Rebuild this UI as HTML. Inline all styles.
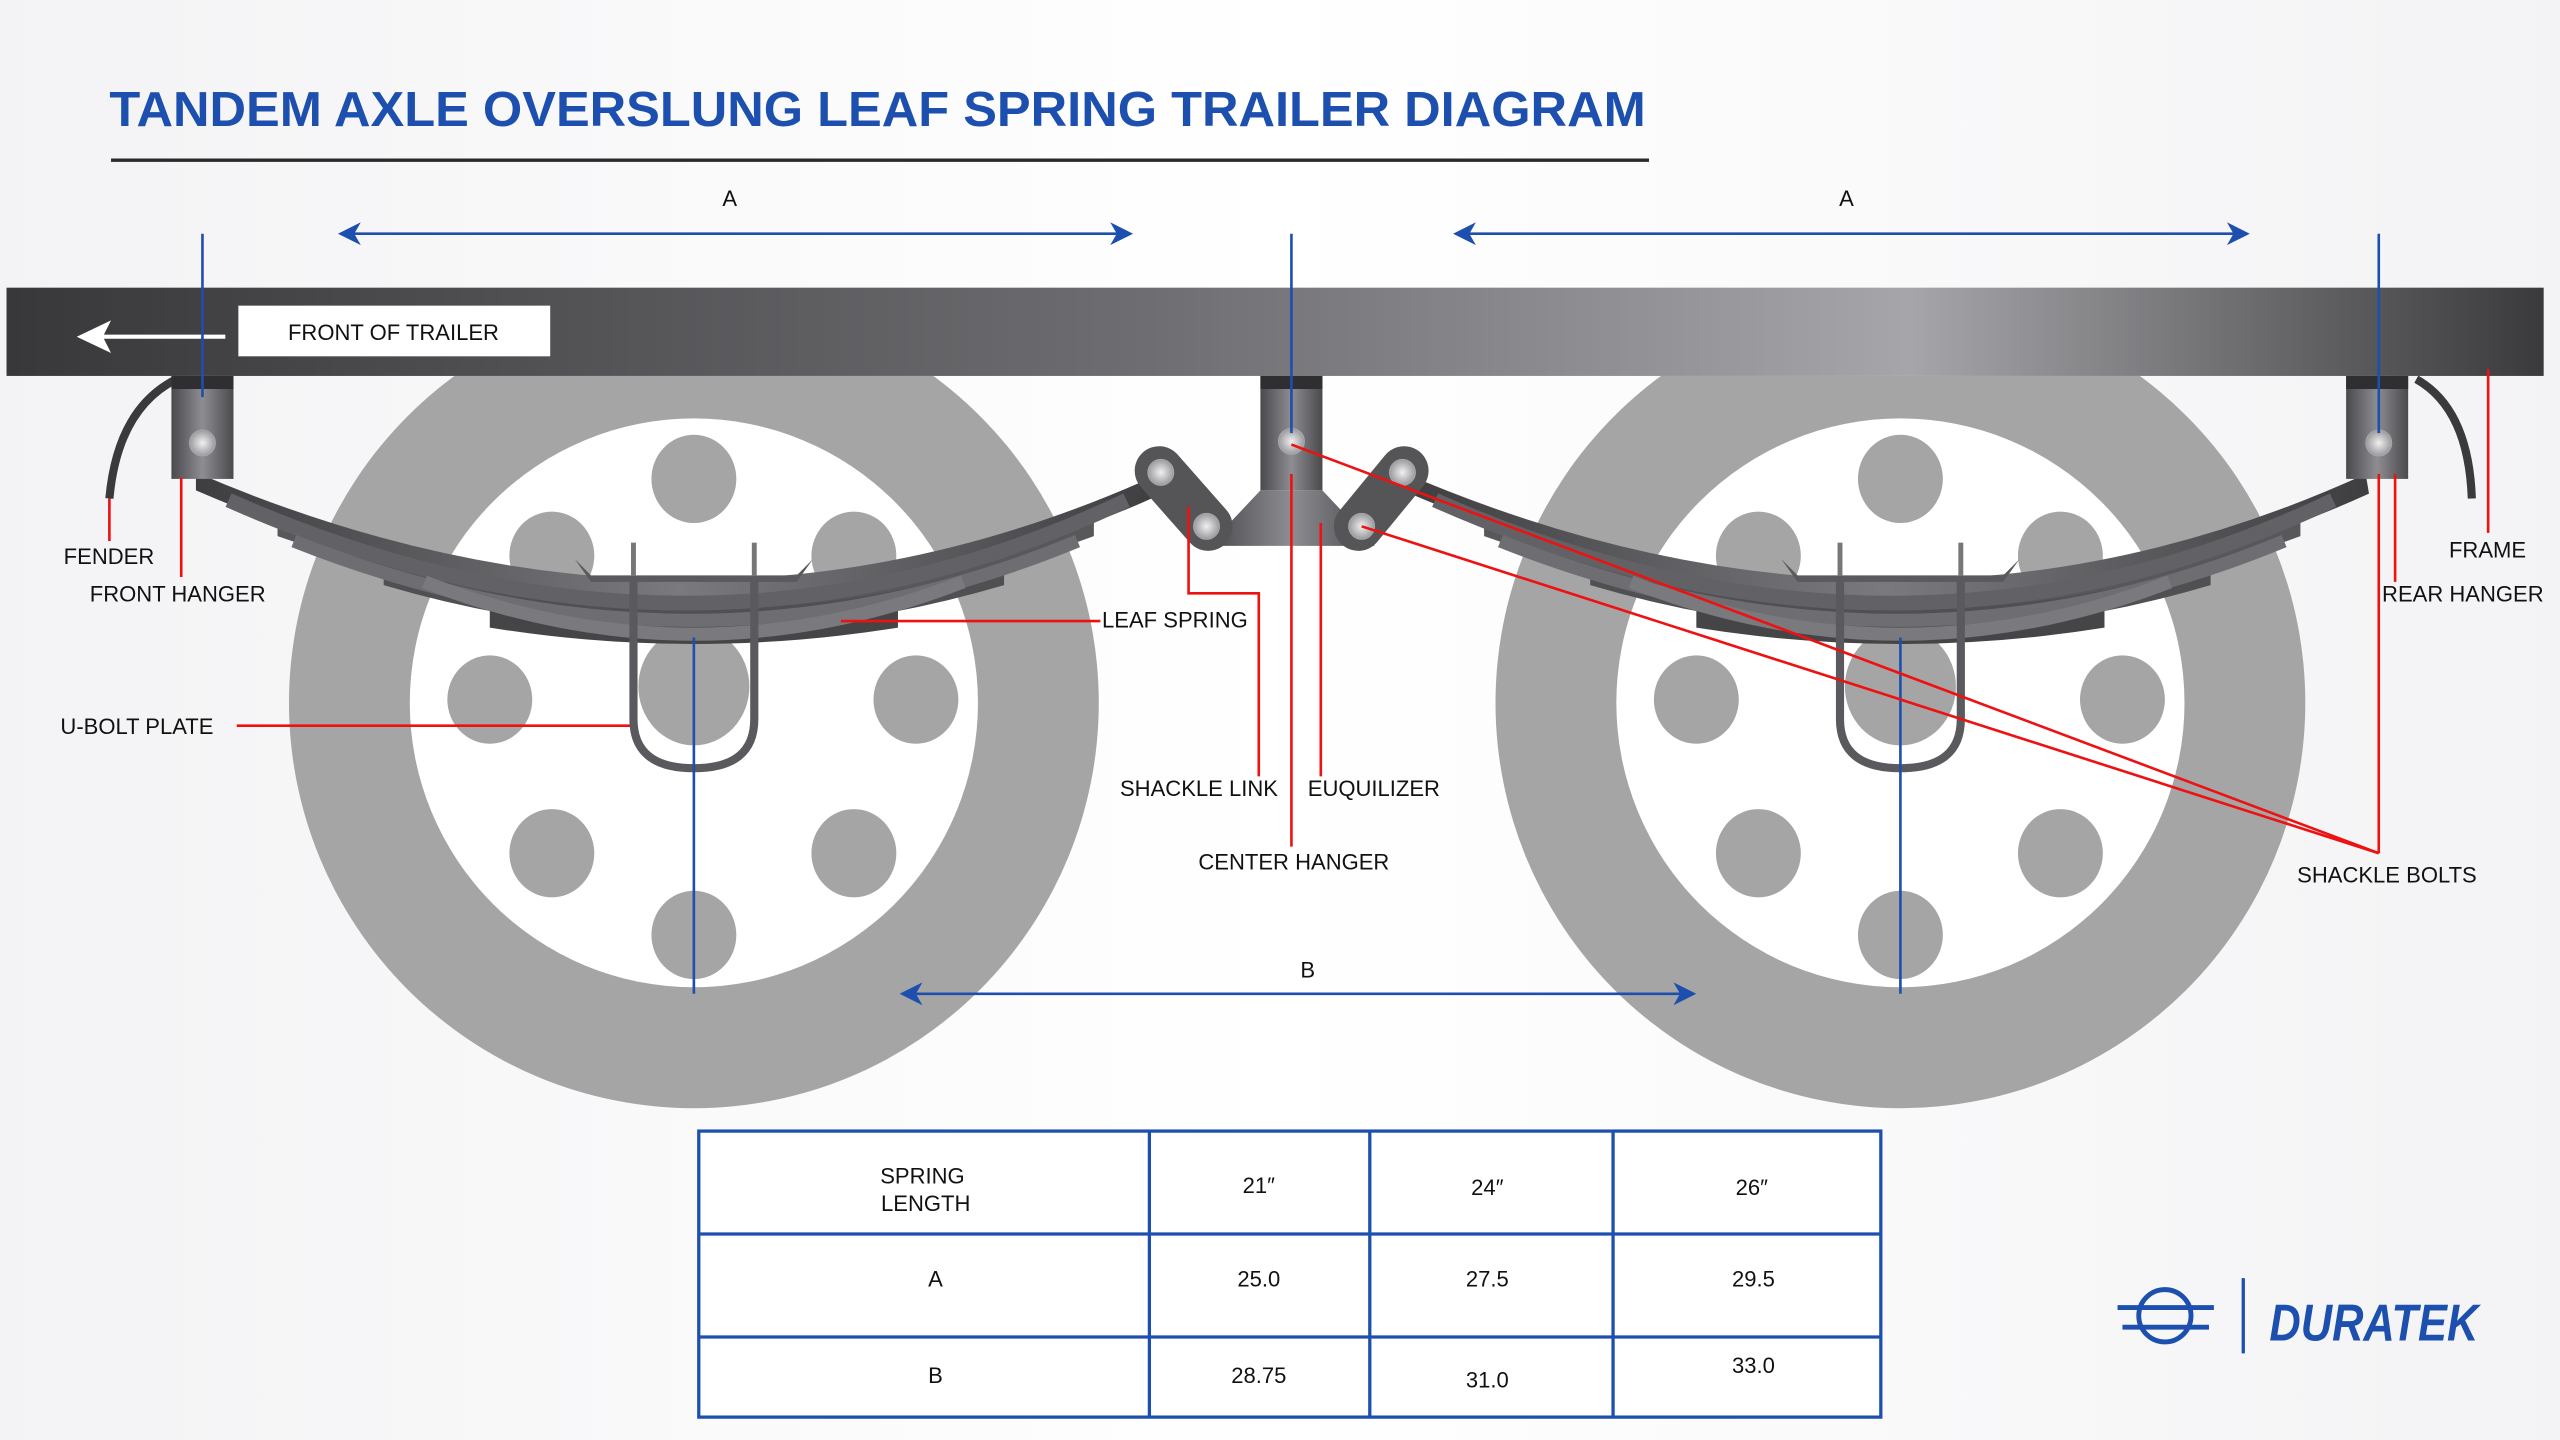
<!DOCTYPE html>
<html><head><meta charset="utf-8"><style>
html,body{margin:0;padding:0;background:#f6f6f8;}
svg{display:block;}
text{font-family:"Liberation Sans",sans-serif;}
</style></head><body>
<svg width="2560" height="1440" viewBox="0 0 1568 881" preserveAspectRatio="none" xmlns="http://www.w3.org/2000/svg">
<defs>
<linearGradient id="bg" x1="0" y1="0" x2="1" y2="0"><stop offset="0" stop-color="#f3f3f5"/><stop offset="0.5" stop-color="#ffffff"/><stop offset="1" stop-color="#f3f3f5"/></linearGradient>
<linearGradient id="frame" x1="0" y1="0" x2="1" y2="0"><stop offset="0" stop-color="#38383a"/><stop offset="0.45" stop-color="#6e6e72"/><stop offset="0.75" stop-color="#a6a6aa"/><stop offset="1" stop-color="#3a3a3c"/></linearGradient>
<linearGradient id="metal" x1="0" y1="0" x2="1" y2="0"><stop offset="0" stop-color="#4a4a4d"/><stop offset="0.5" stop-color="#8d8d92"/><stop offset="1" stop-color="#4a4a4d"/></linearGradient>
<linearGradient id="leaf" x1="0" y1="0" x2="1" y2="0"><stop offset="0" stop-color="#3e3e41"/><stop offset="0.5" stop-color="#7a7a7e"/><stop offset="1" stop-color="#3e3e41"/></linearGradient>
<radialGradient id="nut"><stop offset="0" stop-color="#f0f0f0"/><stop offset="1" stop-color="#9a9a9e"/></radialGradient>
<clipPath id="below"><rect x="0" y="230" width="1568" height="700"/></clipPath>
</defs>
<rect width="1568" height="881" fill="url(#bg)"/>
<text x="67" y="77" font-size="30" fill="#1d4fae" textLength="941" lengthAdjust="spacingAndGlyphs" style="font-weight:600">TANDEM AXLE OVERSLUNG LEAF SPRING TRAILER DIAGRAM</text>
<line x1="68" y1="98" x2="1010" y2="98" stroke="#2a2a2e" stroke-width="2"/>

<g clip-path="url(#below)">
<g fill="#a5a5a5">
<circle cx="425" cy="430" r="248"/><circle cx="1164" cy="430" r="248"/>
</g>
<g fill="#ffffff"><circle cx="425" cy="430" r="174"/><circle cx="1164" cy="430" r="174"/></g>
</g>
<g fill="#a5a5a5" id="holes">
<ellipse cx="425" cy="293" rx="26" ry="27"/><ellipse cx="338" cy="340" rx="26" ry="27"/><ellipse cx="523" cy="340" rx="26" ry="27"/>
<ellipse cx="300" cy="428" rx="26" ry="27"/><ellipse cx="561" cy="428" rx="26" ry="27"/><ellipse cx="338" cy="522" rx="26" ry="27"/>
<ellipse cx="523" cy="522" rx="26" ry="27"/><ellipse cx="425" cy="572" rx="26" ry="27"/><ellipse cx="425" cy="420" rx="34" ry="36"/>
</g>
<use href="#holes" x="739"/>

<rect x="4" y="176" width="1554" height="54" fill="url(#frame)"/>
<rect x="146" y="187" width="191" height="31" fill="#fff"/>
<text x="241" y="208" font-size="13.5" text-anchor="middle" fill="#111">FRONT OF TRAILER</text>
<line x1="60" y1="206" x2="138" y2="206" stroke="#fff" stroke-width="2.5"/>
<path d="M47 206 L68 196 L63 206 L68 216 Z" fill="#fff"/>

<path d="M108 232 Q72 250 67 305" fill="none" stroke="#3a3a3c" stroke-width="5"/>
<path d="M1480 232 Q1512 250 1514 305" fill="none" stroke="#3a3a3c" stroke-width="5"/>

<g id="spring">
<path d="M300 366 Q425 392 550 366 L550 384 Q425 404 300 384 Z" fill="#454548"/>
<path d="M235 342 Q425 402 615 342 L615 358 Q425 414 235 358 Z" fill="#505053"/>
<path d="M170 316 Q425 408 670 316 L670 328 Q425 418 170 328 Z" fill="#58585b"/>
<path d="M120 289 Q425 420 710 290 L712 302 Q425 432 120 300 Z" fill="url(#leaf)"/>
<path d="M140 306 Q425 432 690 306" fill="none" stroke="#626266" stroke-width="9"/>
<path d="M180 331 Q425 428 660 331" fill="none" stroke="#6e6e72" stroke-width="8"/>
<path d="M260 356 Q425 420 590 356" fill="none" stroke="#7a7a7e" stroke-width="8"/>
<path d="M352 342 L362 352 L488 352 L498 342 L488 356 L362 356 Z" fill="#5a5a5d"/>
<line x1="388" y1="332" x2="388" y2="352" stroke="#777" stroke-width="3"/>
<line x1="462" y1="332" x2="462" y2="352" stroke="#777" stroke-width="3"/>
<path d="M388 355 L388 440 Q388 470 425 470 Q462 470 462 440 L462 355" fill="none" stroke="#5a5a5e" stroke-width="5"/>
</g>
<use href="#spring" x="739"/>

<rect x="105" y="230" width="38" height="63" fill="url(#metal)"/>
<rect x="105" y="230" width="38" height="8" fill="#2f2f31"/>
<rect x="1437" y="230" width="38" height="63" fill="url(#metal)"/>
<rect x="1437" y="230" width="38" height="8" fill="#2f2f31"/>
<rect x="772" y="230" width="38" height="70" fill="url(#metal)"/>
<rect x="772" y="230" width="38" height="8" fill="#2f2f31"/>
<path d="M772 300 L810 300 L842 334 L740 334 Z" fill="url(#metal)"/>
<line x1="710" y1="288" x2="740" y2="322" stroke="#555558" stroke-width="30" stroke-linecap="round"/>
<line x1="860" y1="288" x2="832" y2="322" stroke="#555558" stroke-width="30" stroke-linecap="round"/>
<g fill="url(#nut)" stroke="#aaa" stroke-width="0.5">
<circle cx="124" cy="271" r="8"/><circle cx="1457" cy="271" r="8"/><circle cx="791" cy="270" r="8"/>
<circle cx="711" cy="289" r="8"/><circle cx="739" cy="322" r="8"/><circle cx="859" cy="289" r="8"/><circle cx="834" cy="322" r="8"/>
</g>

<g stroke="#1d4fae" stroke-width="1.6" fill="none">
<line x1="212" y1="143" x2="690" y2="143"/><line x1="895" y1="143" x2="1374" y2="143"/>
<line x1="557" y1="608" x2="1033" y2="608"/>
<line x1="124" y1="143" x2="124" y2="243"/><line x1="791" y1="143" x2="791" y2="265"/><line x1="1457" y1="143" x2="1457" y2="265"/>
<line x1="425" y1="390" x2="425" y2="608"/><line x1="1164" y1="390" x2="1164" y2="608"/>
</g>
<g fill="#1d4fae">
<path d="M207 143 L221 136 L217 143 L221 150 Z"/><path d="M694 143 L680 136 L684 143 L680 150 Z"/>
<path d="M890 143 L904 136 L900 143 L904 150 Z"/><path d="M1378 143 L1364 136 L1368 143 L1364 150 Z"/>
<path d="M551 608 L565 601 L561 608 L565 615 Z"/><path d="M1039 608 L1025 601 L1029 608 L1025 615 Z"/>
</g>
<g font-size="13.5" fill="#111" text-anchor="middle">
<text x="447" y="126">A</text><text x="1131" y="126">A</text><text x="801" y="598">B</text>
</g>

<g stroke="#ee1111" stroke-width="1.6" fill="none">
<line x1="67" y1="305" x2="67" y2="331"/>
<line x1="111" y1="292" x2="111" y2="353"/>
<line x1="145" y1="444" x2="386" y2="444"/>
<line x1="515" y1="380" x2="674" y2="380"/>
<polyline points="728,310 728,363 771,363 771,475"/>
<line x1="791" y1="290" x2="791" y2="518"/>
<line x1="809" y1="320" x2="809" y2="475"/>
<line x1="791" y1="272" x2="1457" y2="522"/>
<line x1="834" y1="322" x2="1457" y2="522"/>
<line x1="1457" y1="290" x2="1457" y2="522"/>
<line x1="1467" y1="290" x2="1467" y2="356"/>
<line x1="1524" y1="226" x2="1524" y2="326"/>
</g>
<g font-size="13.5" fill="#111">
<text x="39" y="345">FENDER</text>
<text x="55" y="368">FRONT HANGER</text>
<text x="37" y="449">U-BOLT PLATE</text>
<text x="675" y="384">LEAF SPRING</text>
<text x="686" y="487">SHACKLE LINK</text>
<text x="801" y="487">EUQUILIZER</text>
<text x="734" y="532">CENTER HANGER</text>
<text x="1407" y="540">SHACKLE BOLTS</text>
<text x="1500" y="341">FRAME</text>
<text x="1459" y="368">REAR HANGER</text>
</g>

<g stroke="#1d4fae" stroke-width="2" fill="none">
<rect x="428" y="692" width="724" height="175" fill="#fff"/>
<line x1="704" y1="692" x2="704" y2="867"/><line x1="839" y1="692" x2="839" y2="867"/><line x1="988" y1="692" x2="988" y2="867"/>
<line x1="428" y1="755" x2="1152" y2="755"/><line x1="428" y1="818" x2="1152" y2="818"/>
</g>
<g font-size="13.5" fill="#111" text-anchor="middle">
<text x="565" y="724">SPRING</text><text x="567" y="741">LENGTH</text>
<text x="771" y="730">21″</text><text x="911" y="731">24″</text><text x="1073" y="731">26″</text>
<text x="573" y="787">A</text><text x="771" y="787">25.0</text><text x="911" y="787">27.5</text><text x="1074" y="787">29.5</text>
<text x="573" y="846">B</text><text x="771" y="846">28.75</text><text x="911" y="849">31.0</text><text x="1074" y="840">33.0</text>
</g>

<g stroke="#1d4fae" stroke-width="3" fill="none">
<circle cx="1326" cy="805" r="16"/>
<line x1="1297" y1="800" x2="1356" y2="800"/><line x1="1300" y1="812" x2="1353" y2="812"/>
</g>
<line x1="1374" y1="782" x2="1374" y2="828" stroke="#1d4fae" stroke-width="2"/>
<text x="1390" y="820" font-size="32" font-weight="bold" font-style="italic" fill="#1d4fae" textLength="128" lengthAdjust="spacingAndGlyphs">DURATEK</text>
</svg>
</body></html>
